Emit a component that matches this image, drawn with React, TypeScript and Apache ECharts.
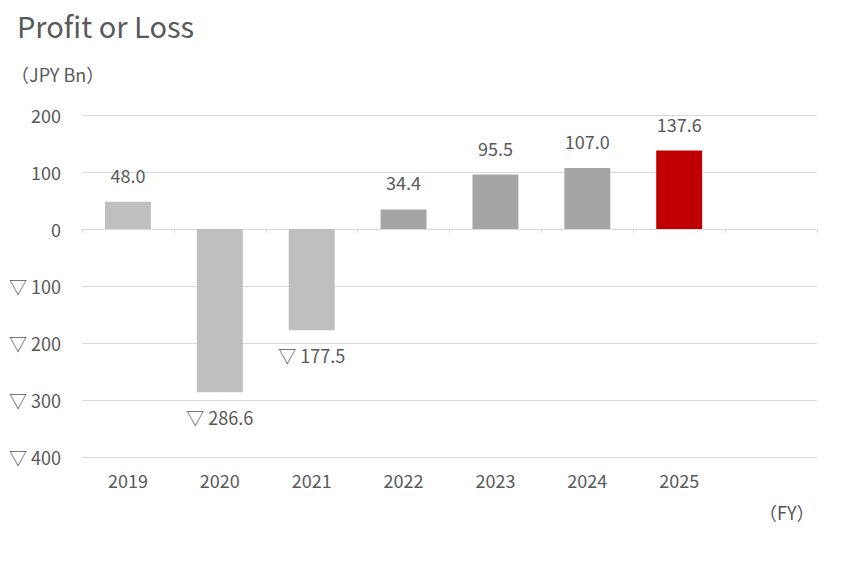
import React, { useEffect, useRef } from "react";
import * as echarts from "echarts";

const years = ["2019", "2020", "2021", "2022", "2023", "2024", "2025", ""];
const profit = [48.0, -286.6, -177.5, 34.4, 95.5, 107.0, 137.6, null];
const barColors = ["#bfbfbf", "#bfbfbf", "#bfbfbf", "#a5a5a5", "#a5a5a5", "#a5a5a5", "#c00000", "#bfbfbf"];

const FONT = "'Noto Sans CJK JP', 'Noto Sans', sans-serif";
const TEXT = "#595959";
const FS = 18;

const fmt = (v: number, digits: number) =>
  v < 0 ? "▽ " + Math.abs(v).toFixed(digits) : v.toFixed(digits);

export default function App() {
  const ref = useRef<HTMLDivElement>(null);
  useEffect(() => {
    if (!ref.current) return;
    const chart = echarts.init(ref.current, undefined, { renderer: "svg" });
    chart.setOption({
      animation: false,
      textStyle: { fontFamily: FONT },
      title: {
        text: "Profit or Loss",
        left: 12,
        top: 5,
        textStyle: { fontFamily: FONT, fontSize: 29, fontWeight: "normal", color: TEXT },
      },
      graphic: [
        {
          type: "text",
          left: 11,
          top: 65,
          style: { text: "（JPY Bn）", font: `${FS}px ${FONT}`, fill: TEXT },
        },
        {
          type: "text",
          left: 759,
          top: 503,
          style: { text: "（FY）", font: `${FS}px ${FONT}`, fill: TEXT },
        },
      ],
      grid: { left: 82, right: 46, top: 115, bottom: 105, outerBoundsMode: "none" },
      xAxis: [
        {
          type: "category",
          data: years,
          position: "bottom",
          axisLine: { onZero: true, lineStyle: { color: "#d9d9d9", width: 1 } },
          axisTick: { show: true, length: 4, lineStyle: { color: "#d9d9d9" } },
          axisLabel: { show: false },
        },
        {
          type: "category",
          data: years,
          position: "bottom",
          axisLine: { show: false, onZero: false },
          axisTick: { show: false },
          axisLabel: { margin: 14, fontSize: FS, color: TEXT, fontFamily: FONT },
        },
      ],
      yAxis: {
        type: "value",
        min: -400,
        max: 200,
        interval: 100,
        axisLine: { show: false },
        axisTick: { show: false },
        axisLabel: {
          fontSize: FS,
          color: TEXT,
          margin: 21,
          fontFamily: FONT,
          formatter: (v: number) => (v < 0 ? "▽ " + Math.abs(v) : String(v)),
        },
        splitLine: { lineStyle: { color: "#d9d9d9", width: 1 } },
      },
      series: [
        {
          type: "bar",
          xAxisIndex: 0,
          barWidth: "50%",
          data: profit.map((v, i) => ({
            value: v,
            itemStyle: { color: barColors[i] },
            label:
              v !== null && v < 0
                ? { position: "bottom", distance: 16 }
                : { position: "top", distance: 18 },
          })),
          label: {
            show: true,
            fontSize: FS,
            color: TEXT,
            fontFamily: FONT,
            formatter: (p: any) => (p.value == null ? "" : fmt(p.value, 1)),
          },
        },
      ],
    });
    return () => chart.dispose();
  }, []);
  return (
    <div
      ref={ref}
      style={{ position: "absolute", left: 0, top: 0, width: 863, height: 562 }}
    />
  );
}
